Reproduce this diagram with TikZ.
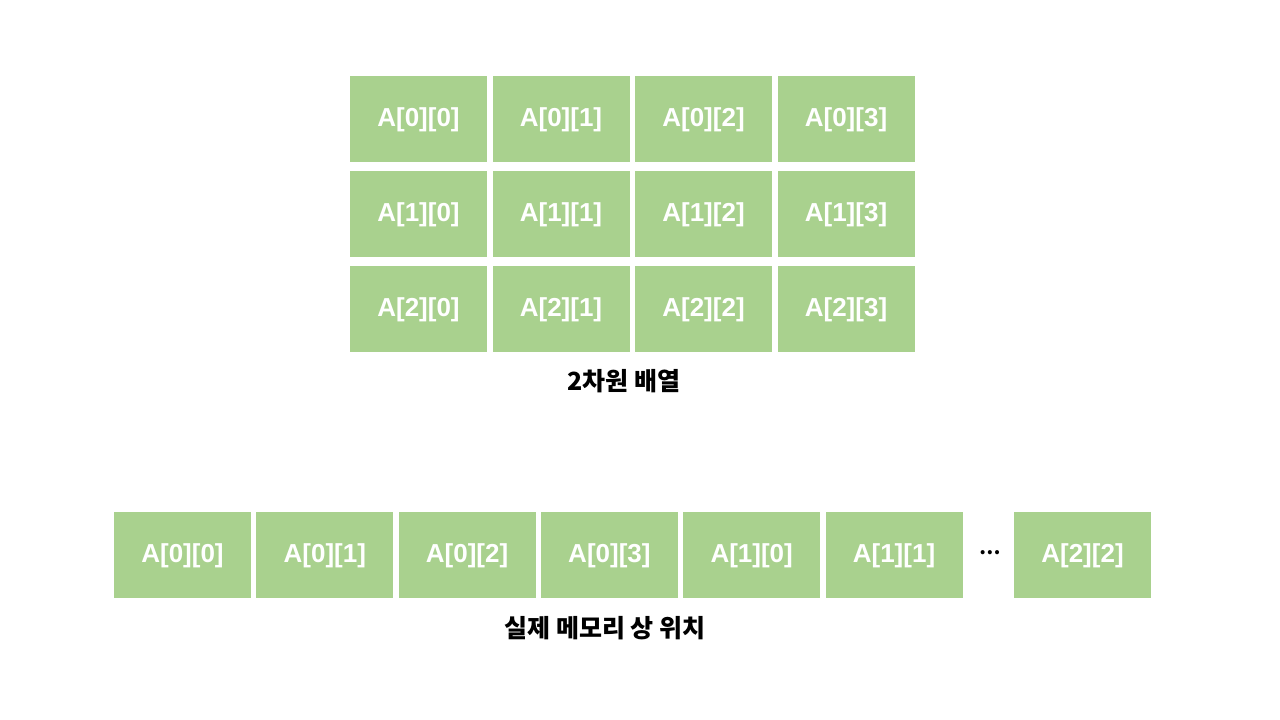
\documentclass[tikz,border=0pt]{standalone}
\usepackage{fontspec}
\setmainfont{Noto Sans CJK KR}
\newfontfamily\cellfont{Liberation Sans}
\usetikzlibrary{positioning}
\definecolor{cellgreen}{HTML}{A9D18E}

\begin{document}
\begin{tikzpicture}[x=1pt,y=-1pt,
  cell/.style={fill=cellgreen,minimum width=137pt,minimum height=86pt,inner sep=0pt,
    text height=19pt,text depth=5pt,
    text=white,font=\cellfont\bfseries\fontsize{26}{30}\selectfont},
  caption/.style={font=\bfseries\fontsize{25}{29}\selectfont}]

\useasboundingbox (0,0) rectangle (1280,720);

% 2D array
\foreach \r in {0,1,2}
  \foreach \c in {0,1,2,3}
    \node[cell] (g\r\c) at (418.5+142.5*\c,119+95*\r) {A[\r][\c]};
\node[caption] (gridlabel) at (624,381) {2차원 배열};

% memory layout
\def\xs{182.5}
\node[cell] (m0) at (\xs,555) {A[0][0]};
\node[cell] (m1) at (\xs+142.3,555) {A[0][1]};
\node[cell] (m2) at (\xs+2*142.3,555) {A[0][2]};
\node[cell] (m3) at (\xs+3*142.3,555) {A[0][3]};
\node[cell] (m4) at (\xs+4*142.3,555) {A[1][0]};
\node[cell] (m5) at (\xs+5*142.3,555) {A[1][1]};
\node[caption,font=\bfseries\fontsize{19}{22}\selectfont] (dots) at (990,553) {⋯};
\node[cell] (m8) at (1082.5,555) {A[2][2]};
\node[caption] (memlabel) at (605,628) {실제 메모리 상 위치};

\end{tikzpicture}
\end{document}
